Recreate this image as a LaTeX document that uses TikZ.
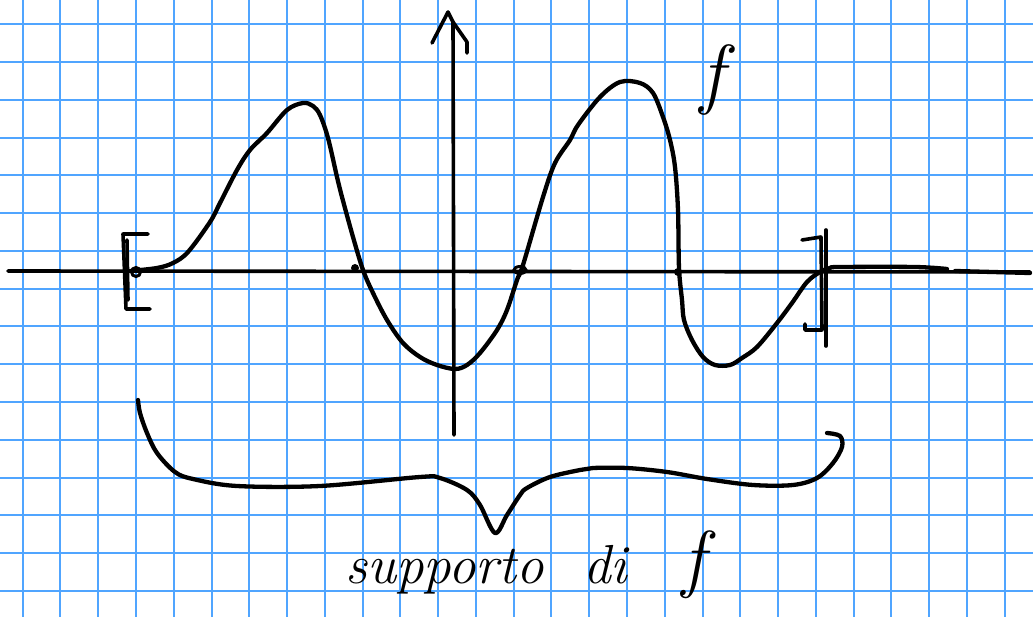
\documentclass[tikz,border=0pt]{standalone}
\definecolor{gridblue}{RGB}{80,165,255}
\tikzset{
  gridline/.style={draw=gridblue, line width=2pt},
  ink/.style={draw=black, line width=4.3pt, line cap=round, line join=round},
  thinink/.style={draw=black, line width=3.6pt, line cap=round, line join=round},
  hand/.style={font=\fontsize{55}{60}\selectfont\itshape, inner sep=0pt}
}
\begin{document}
\begin{tikzpicture}[x=1pt,y=-1pt]
\useasboundingbox (0,0) rectangle (1033,617);
\fill[white] (0,0) rectangle (1033,617);
% grid
\foreach \k in {0,...,26} { \draw[gridline] ({22.7+37.77*\k},0) -- ({22.7+37.77*\k},617); }
\foreach \k in {0,...,15} { \draw[gridline] (0,{24.3+37.77*\k}) -- (1033,{24.3+37.77*\k}); }
% axes
\draw[thinink] (8,271) -- (1030,272);
\draw[ink] (955,271) -- (1030,273);
\draw[thinink] (453,22) -- (454,435);
\draw[thinink] (432,43) -- (448,12) -- (453,22);
\draw[thinink] (453,22) -- (467,42) -- (467,53);
% function f
\draw[ink] plot[smooth, tension=0.55] coordinates {
 (130,271) (157,268) (173,263) (188,252) (210,222) (220,203) (237,170) (250,150)
 (267,133) (287,110) (303,103) (313,106) (320,115) (328,138) (337,177) (342,197)
 (353,237) (363,270) (373,293) (387,320) (403,343) (420,357) (437,365) (455,369)
 (467,365) (480,353) (497,330) (507,310) (517,280) (523,265) (543,197) (555,163)
 (570,140) (578,125) (600,97) (620,82) (640,83) (653,93) (663,117) (670,140)
 (675,167) (678,210) (679,268) (682,300) (684,320) (692,340) (703,357) (715,365)
 (730,365) (742,358) (757,347) (777,323) (792,303) (807,282) (820,272) (830,268)
 (840,267) (915,267) (947,269)};
% zero marks
\fill (355,268) circle (4);
\draw[line width=3pt] (520,270) ellipse (6 and 3.5);
\fill (678,272) circle (4);
\draw[line width=3pt] (136,272) circle (4.5);
% left bracket
\draw[thinink] (148,234) -- (123,234) -- (126,309) -- (150,309);
\draw[thinink] (127,240) -- (128,300);
% right bracket
\draw[thinink] (802,240) -- (821,237) -- (822,330) -- (805,330) -- (805,324);
\draw[thinink] (826,230) -- (826,346);
% brace
\draw[ink] plot[smooth, tension=0.55] coordinates {
 (138,400) (140,413) (147,433) (157,453) (175,472) (193,479) (237,486) (320,486)
 (420,477) (440,478) (467,490) (480,505) (495,533) (507,515) (520,495) (527,488)
 (550,477) (580,470) (593,468) (627,468) (667,472) (707,479) (753,485) (793,485)
 (817,478) (833,463) (842,447) (840,436) (827,433)};
% labels
\node[hand, font=\fontsize{78}{80}\selectfont\itshape] (fl) at (712,80) {f};
\node[hand, anchor=base west] (sl) at (345,583) {supporto\ \hspace{20pt}di\ \hspace{36pt}{\fontsize{75}{80}\selectfont f}};
\end{tikzpicture}
\end{document}
